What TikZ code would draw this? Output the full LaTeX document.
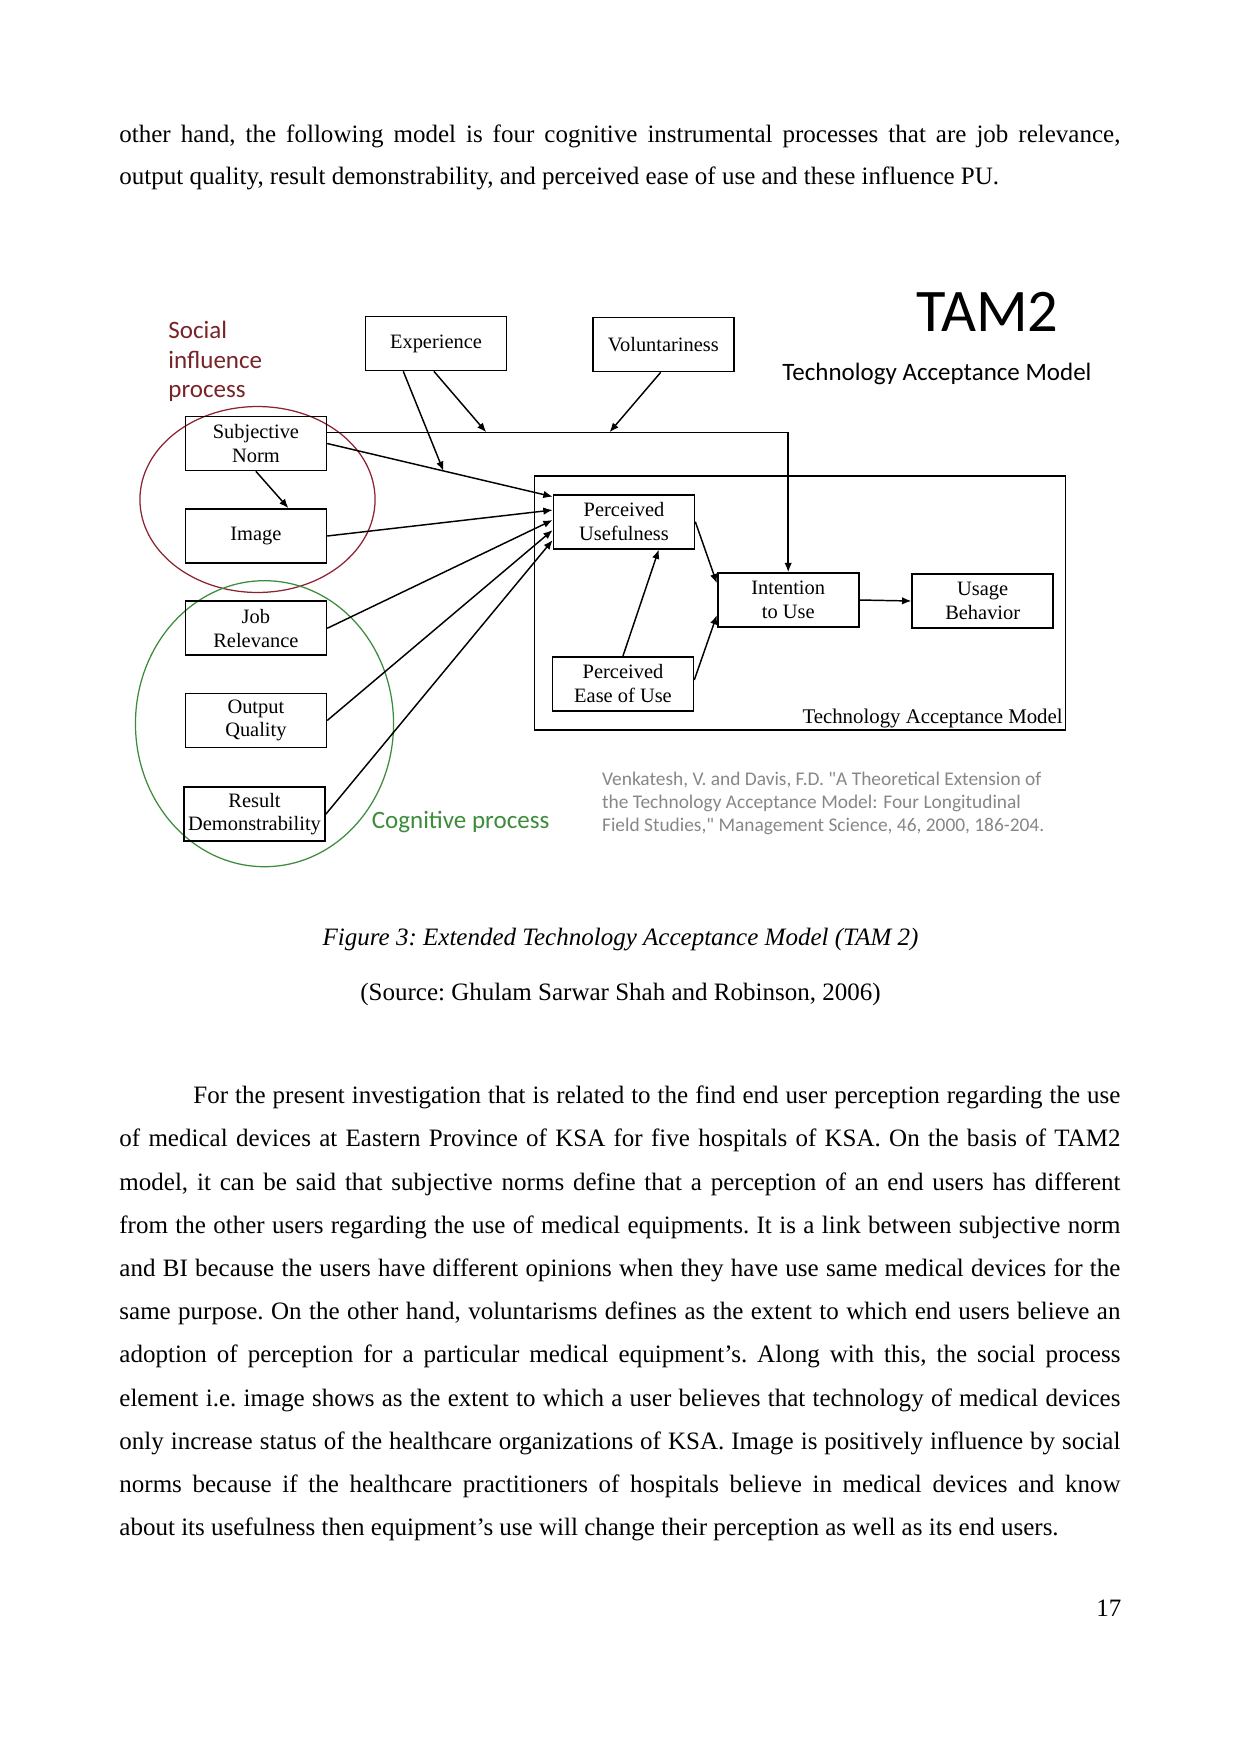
\documentclass[tikz,border=0pt]{standalone}
\usepackage{fontspec}
\setmainfont{Liberation Serif}
\newfontfamily\calfont{Carlito}
\usetikzlibrary{arrows.meta,calc}
\definecolor{redc}{RGB}{140,35,50}
\definecolor{redt}{RGB}{120,35,40}
\definecolor{greenc}{RGB}{60,140,60}
\definecolor{greyc}{RGB}{135,135,135}
\begin{document}
\begin{tikzpicture}[x=0.4797pt,y=-0.4797pt,
  tbox/.style={draw,line width=0.8pt,minimum width=67.6pt,minimum height=25.9pt,inner sep=0pt,align=center,font=\fontsize{9.8}{11.3}\selectfont},
  arr/.style={line width=0.7pt,-{Latex[length=4.5pt,width=3.6pt]}},
  body/.style={anchor=base west,inner sep=0pt,font=\fontsize{12}{14}\selectfont\frenchspacing},
  ctext/.style={anchor=base,inner sep=0pt,font=\fontsize{12}{14}\selectfont\frenchspacing},
  cal/.style={anchor=base west,inner sep=0pt},
]
\path[fill=white] (0,0) rectangle (1241,1754);

% body text top
\node[body] (t1) at (119,142) {\makebox[480.2pt][s]{other hand, the following model is four cognitive instrumental processes that are job relevance,}};
\node[body] (t2) at (119,184.5) {output quality, result demonstrability, and perceived ease of use and these influence PU.};

% caption
\node[ctext,font=\itshape\fontsize{12}{14}\selectfont\frenchspacing] (cap) at (620.5,945.4) {Figure 3: Extended Technology Acceptance Model (TAM 2)};
\node[ctext] (src) at (620.5,1000.2) {(Source: Ghulam Sarwar Shah and Robinson, 2006)};

% paragraph
\node[body] (p1) at (193,1103.7) {\makebox[444.7pt][s]{For the present investigation that is related to the find end user perception regarding the use}};
\node[body] (p2) at (119,1146.9) {\makebox[480.2pt][s]{of medical devices at Eastern Province of KSA for five hospitals of KSA. On the basis of TAM2}};
\node[body] (p3) at (119,1190.1) {\makebox[480.2pt][s]{model, it can be said that subjective norms define that a perception of an end users has different}};
\node[body] (p4) at (119,1233.3) {\makebox[480.2pt][s]{from the other users regarding the use of medical equipments. It is a link between subjective norm}};
\node[body] (p5) at (119,1276.5) {\makebox[480.2pt][s]{and BI because the users have different opinions when they have use same medical devices for the}};
\node[body] (p6) at (119,1319.7) {\makebox[480.2pt][s]{same purpose. On the other hand, voluntarisms defines as the extent to which end users believe an}};
\node[body] (p7) at (119,1362.9) {\makebox[480.2pt][s]{adoption of perception for a particular medical equipment’s. Along with this, the social process}};
\node[body] (p8) at (119,1406.1) {\makebox[480.2pt][s]{element i.e. image shows as the extent to which a user believes that technology of medical devices}};
\node[body] (p9) at (119,1449.3) {\makebox[480.2pt][s]{only increase status of the healthcare organizations of KSA. Image is positively influence by social}};
\node[body] (p10) at (119,1492.5) {\makebox[480.2pt][s]{norms because if the healthcare practitioners of hospitals believe in medical devices and know}};
\node[body] (p11) at (119,1535.7) {about its usefulness then equipment’s use will change their perception as well as its end users.};

\node[body,anchor=base east] (pg) at (1121.7,1616) {17};

% diagram headings
\node[cal,font=\calfont\fontsize{29}{34}\selectfont] (tam2) at (916,331.7) {TAM2};
\node[cal,font=\calfont\fontsize{12}{14}\selectfont] (sub) at (782,380) {Technology Acceptance Model};
\node[cal,text=redt,font=\calfont\fontsize{12}{14}\selectfont] (s1) at (168,338.9) {Social};
\node[cal,text=redt,font=\calfont\fontsize{12}{14}\selectfont] (s2) at (168,368.4) {influence};
\node[cal,text=redt,font=\calfont\fontsize{12}{14}\selectfont] (s3) at (168,397.9) {process};
\node[cal,text=greenc,font=\calfont\fontsize{12}{14}\selectfont] (cog) at (371.4,828) {Cognitive process};
\node[cal,text=greyc,font=\calfont\fontsize{9.3}{11}\selectfont] (c1) at (601.7,785) {Venkatesh, V. and Davis, F.D. "A Theoretical Extension of};
\node[cal,text=greyc,font=\calfont\fontsize{9.3}{11}\selectfont] (c2) at (601.7,808.3) {the Technology Acceptance Model: Four Longitudinal};
\node[cal,text=greyc,font=\calfont\fontsize{9.3}{11}\selectfont] (c3) at (601.7,831.7) {Field Studies," Management Science, 46, 2000, 186-204.};

% ellipses
\draw[redc,line width=0.6pt] (257.5,499.5) ellipse [x radius=56.4pt,y radius=44.6pt];
\draw[greenc,line width=0.6pt] (264.5,723.7) ellipse [x radius=61.9pt,y radius=68.6pt];

% boxes
\node[tbox] (exp) at (436,343.5) {Experience};
\node[tbox] (vol) at (663.4,344.5) {Voluntariness};
\node[tbox] (sn) at (255.9,443.5) {Subjective\\Norm};
\node[tbox] (img) at (255.9,536) {Image};
\node[tbox] (jr) at (255.9,628.3) {Job\\Relevance};
\node[tbox] (oq) at (255.9,720.5) {Output\\Quality};
\node[tbox] (rd) at (254.5,814.2) {Result\\Demonstrability};
\node[tbox] (pu) at (624,521.7) {Perceived\\Usefulness};
\node[tbox] (peou) at (623,683.7) {Perceived\\Ease of Use};
\node[tbox] (itu) at (788.2,600) {Intention\\to Use};
\node[tbox] (ub) at (982.7,601) {Usage\\Behavior};
\node[draw,line width=0.8pt,minimum width=254.8pt,minimum height=122pt,inner sep=0pt] (tam) at (800,602.85) {};
\node[anchor=base east,inner sep=0pt,font=\fontsize{10}{11.3}\selectfont] (taml) at ([xshift=-1.6pt,yshift=3.4pt]tam.south east) {Technology Acceptance Model};

% connectors
\coordinate (hl) at ([yshift=5.4pt]sn.east);
\draw[arr] (hl) -| (itu.north);
\coordinate (hc) at (hl -| itu.north);
\coordinate (m2) at ($(hl)!0.345!(hc)$);
\coordinate (m3) at ($(hl)!0.6124!(hc)$);
\coordinate (pu1) at ([yshift=12pt]pu.west);
\draw[arr] (sn.east) -- (pu1);
\coordinate (m1) at ($(sn.east)!0.5156!(pu1)$);
\draw[arr] ([xshift=-15.7pt]exp.south) -- (m1);
\draw[arr] ([xshift=-1pt]exp.south) -- (m2);
\draw[arr] ([xshift=-1.3pt]vol.south) -- (m3);
\draw[arr] (img.east) -- ([yshift=5.6pt]pu.west);
\draw[arr] (jr.east) -- ([yshift=0.8pt]pu.west);
\draw[arr] (oq.east) -- ([yshift=-4pt]pu.west);
\draw[arr] (rd.east) -- ([yshift=-8.8pt]pu.west);
\draw[arr] (sn.south) -- ([xshift=15.6pt]img.north);
\draw[arr] (pu.east) -- ([yshift=8pt]itu.west);
\draw[arr] ([yshift=1.8pt]peou.east) -- ([yshift=-7.2pt]itu.west);
\draw[arr] (peou.north) -- ([xshift=16.7pt]pu.south);
\draw[arr] (itu.east) -- (ub.west);
\end{tikzpicture}
\end{document}
